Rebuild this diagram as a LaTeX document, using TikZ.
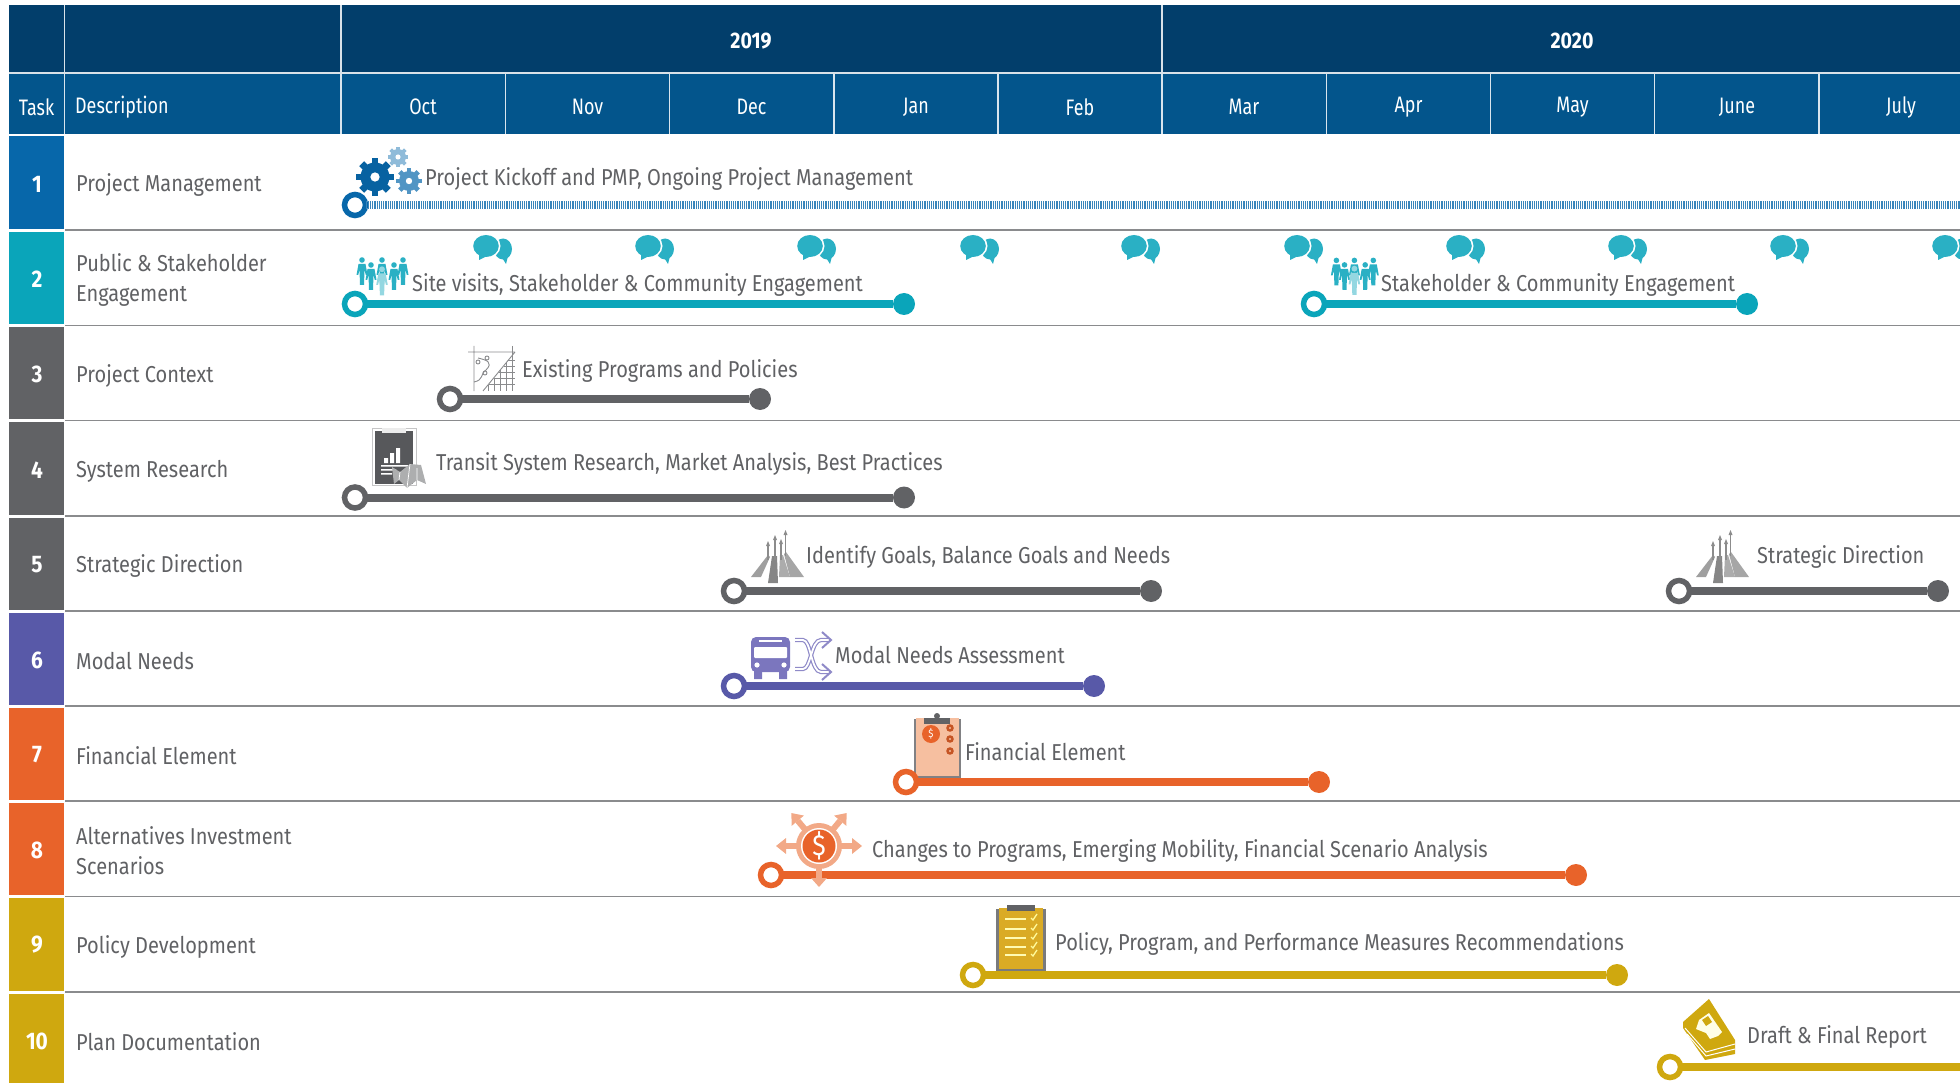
\documentclass[tikz,border=0pt]{standalone}
\usepackage{fontspec}
\setmainfont{Fira Sans}[FakeStretch=0.87]
\newfontfamily\hdfont{Fira Sans}[FakeStretch=0.80]
\definecolor{hdA}{HTML}{023E6B}
\definecolor{hdB}{HTML}{03558C}
\definecolor{tA}{HTML}{0767AA}
\definecolor{tB}{HTML}{0AA5BA}
\definecolor{tC}{HTML}{616265}
\definecolor{tD}{HTML}{5859A8}
\definecolor{tE}{HTML}{E8632A}
\definecolor{tF}{HTML}{CFA80F}
\definecolor{txt}{HTML}{606164}
\definecolor{sep}{HTML}{8A8B8D}
\definecolor{chatc}{HTML}{2AB0C4}
\definecolor{peach}{HTML}{F6BFA0}
\definecolor{lorange}{HTML}{F2A987}
\definecolor{lpurple}{HTML}{7B76BE}
\tikzset{
  x=1pt,y=-1pt,
  rowlabel/.style={anchor=west,inner sep=0pt,text=txt,font=\fontsize{23}{30}\selectfont,align=left},
  barlabel/.style={anchor=west,inner sep=0pt,text=txt,font=\fontsize{23}{30}\selectfont},
  hdtext/.style={inner sep=0pt,text=white,font=\hdfont\fontsize{22.4}{30}\selectfont},
  yeartext/.style={inner sep=0pt,text=white,font=\bfseries\fontsize{22.5}{30}\selectfont},
  tasknum/.style={inner sep=0pt,text=white,font=\bfseries\fontsize{24}{30}\selectfont},
  startdot/.style={circle,draw=#1,fill=white,line width=5.5pt,minimum size=21pt,inner sep=0pt,outer sep=0pt},
  enddot/.style={circle,fill=#1,minimum size=22pt,inner sep=0pt,outer sep=0pt},
  barline/.style={draw=#1,line width=8pt},
  pics/chat/.style={code={
    \fill[chatc] (30,13) ellipse (9 and 10.5);
    \fill[chatc] (28,20) -- (33,28) -- (36,16) -- cycle;
    \fill[white] (13,10) ellipse (14.5 and 12.5);
    \fill[chatc] (13,10) ellipse (12.8 and 11);
    \fill[chatc] (6,16) -- (6,24) -- (16,19) -- cycle;
  }},
  pics/figure/.style={code={
    \fill[#1] (0,-15) circle (2.8);
    \fill[#1] (-3.5,-11) -- (3.5,-11) -- (5.5,0) -- (3.8,0) -- (2.5,-5) -- (2,10) -- (-2,10) -- (-2.5,-5) -- (-3.8,0) -- (-5.5,0) -- cycle;
  }},
  pics/crowd/.style={code={
    \pic at (6,16) {figure=chatc};
    \pic at (47,16) {figure=chatc};
    \pic at (15,21) {figure=chatc};
    \pic at (38,21) {figure=chatc};
    \pic at (26,16) {figure=chatc};
    \pic[scale=1.05] at (26,26) {figure=chatc!50!white};
  }},
  pics/mapgrid/.style={code={
    \begin{scope}[draw=sep,line width=.9pt]
    \draw (6,0) -- (6,45) (0,6) -- (47,6) (47,6) -- (15,45);
    \draw (44,0) -- (44,45);
    \foreach \g in {20,26,32,38} {\draw (\g,{6+(47-\g)*1.22}) -- (\g,45);}
    \foreach \g in {14,20,26,32,38} {\draw ({47-(\g-6)*.82},\g) -- (47,\g);}
    \draw (10,12) .. controls (18,14) and (26,16) .. (18,24) .. controls (12,28) and (16,34) .. (6,36);
    \draw (10,16) circle (2) (19,12) circle (2) (17,27) circle (2);
    \end{scope}
  }},
  pics/research/.style={code={
    \draw[sep!50!white,line width=.8pt] (0,0) rectangle (44,57);
    \fill[tC!90!black] (3,3) rectangle (41,56);
    \fill[white!85!gray] (10,0) rectangle (34,5);
    \fill[white] (12,35) rectangle (16,30) (18,35) rectangle (22,25) (24,35) rectangle (28,20);
    \fill[white] (9,37) rectangle (36,38.5) (9,41) rectangle (24,42.5) (9,45) rectangle (20,46.5);
    \fill[sep!70!white] (20,39) -- (28,44) -- (38,36) -- (49,37) -- (54,56) -- (45,52) -- (35,60) -- (27,52) -- (22,56) -- cycle;
    \draw[white,line width=.7pt] (28,44) -- (27,52) (38,36) -- (35,60) (45,40) -- (45,52);
  }},
  pics/stratdir/.style={code={
    \fill[gray!75] (0,47) -- (10,47) -- (19,27) -- (17,25) -- cycle;
    \fill[gray!95] (17,53) -- (27,53) -- (26,26) -- (21,26) -- cycle;
    \fill[gray!65] (28,47) -- (39,47) -- (32,25) -- (29,25) -- cycle;
    \fill[gray!70] (39,47) -- (53,47) -- (35,22) -- (33,24) -- cycle;
    \draw[gray!90,line width=1.5pt] (17,30) -- (17,14) (24,30) -- (24,8) (30,30) -- (30,12) (34.5,26) -- (34.5,2);
    \fill[gray!90] (17,11) -- (15,16) -- (19,16) -- cycle (24,5) -- (22,10) -- (26,10) -- cycle (30,9) -- (28,14) -- (32,14) -- cycle (34.5,0) -- (32.5,5) -- (36.5,5) -- cycle;
  }},
  pics/busicon/.style={code={
    \fill[lpurple,rounded corners=5pt] (0,3) rectangle (39,38);
    \fill[lpurple] (3,36) rectangle (11,45) (28,36) rectangle (36,45);
    \fill[white,rounded corners=1pt] (3,13) rectangle (36,24);
    \fill[white] (8,6) rectangle (31,8);
    \fill[white] (6,31) circle (2.6) (33,31) circle (2.6);
  }},
  pics/shuffle/.style={code={
    \foreach \c/\w in {lpurple!85!white/4.2,white/1.8}{
      \draw[\c,line width=\w pt] (0,9) -- (8,9) .. controls (16,9) and (16,41) .. (26,41) -- (34,41);
      \draw[\c,line width=\w pt] (0,38) -- (8,38) .. controls (16,38) and (16,9) .. (26,9) -- (34,9);
    }
    \draw[lpurple!85!white,line width=2pt] (27,1) -- (36,9) -- (27,17) (27,33) -- (36,41) -- (27,49);
  }},
  pics/finboard/.style={code={
    \fill[tC!80!white] (0,4) rectangle (47,63);
    \fill[peach] (2,3) rectangle (45,61);
    \fill[tC] (10,3) rectangle (36,9);
    \fill[tC] (23,1) circle (3);
    \fill[tE] (17,19) circle (9);
    \node[inner sep=0pt,text=white,font=\fontsize{11}{12}\selectfont] (findollar) at (17,19) {\$};
    \foreach \ya in {13,24,36}{\fill[tE!85!black] (36,\ya) circle (3.8);\fill[peach] (36,\ya) circle (1.2);}
  }},
  pics/dollarburst/.style={code={
    \fill[lorange] (0,0) circle (23);
    \foreach \a in {0,50,130,180}{
      \begin{scope}[rotate=\a]
      \fill[lorange] (18,-3) rectangle (33,3);
      \fill[lorange] (33,-8) -- (43,0) -- (33,8) -- cycle;
      \end{scope}
    }
    \fill[white] (0,0) circle (18);
    \fill[tE] (0,0) circle (16.5);
    \node[inner sep=0pt,text=white,font=\fontsize{29}{30}\selectfont] (burstdollar) at (0,0) {\$};
  }},
  pics/dollararrow/.style={code={
    \fill[lorange] (-3,0) rectangle (3,13);
    \fill[lorange] (-8,12) -- (8,12) -- (0,21) -- cycle;
  }},
  pics/policyboard/.style={code={
    \fill[tC!85!white] (0,4) rectangle (50,66);
    \fill[tF!85!orange!90!white] (3,3) rectangle (47,64);
    \fill[tC] (11,0) rectangle (39,6);
    \foreach \ya in {14,24,33,42,50}{
      \draw[yellow!30!white,line width=1.3pt] (9,\ya) -- (30,\ya);
      \draw[yellow!40!white,line width=1.3pt] (35,\ya-1) -- (37,\ya+1) -- (41,\ya-5);
    }
  }},
  pics/bookicon/.style={code={
    \fill[tF] (1,24) -- (27,1) -- (53,42) -- (53,56) -- (23,62) -- (1,30) -- cycle;
    \draw[white,line width=1pt] (3,30) -- (24,54) -- (53,46) (5,36) -- (24,58) -- (53,51);
    \fill[white!90!yellow] (17,22) -- (27,15) -- (40,34) -- (36,38) -- (28,41) -- (24,35) -- (14,31) -- cycle;
    \fill[tF] (20,22) -- (26,18) -- (30,24) -- (24,28) -- cycle;
  }}
}
\begin{document}
\begin{tikzpicture}
\useasboundingbox (0,0) rectangle (1960,1083);
% header
\fill[hdA] (9,5) rectangle (1960,72);
\fill[hdB] (9,74.5) rectangle (1960,134);
\foreach \xa in {64.5,341,1162}{\draw[white!85!hdA,line width=1.6pt] (\xa,5) -- (\xa,73);}
\foreach \xa in {64.5,341,505.5,669.5,834,998,1162,1326.5,1490.5,1654.5,1819}{\draw[white!85!hdB,line width=1.6pt] (\xa,73) -- (\xa,134);}
\draw[white!85!hdA,line width=2pt] (9,73) -- (1960,73);
% row colour blocks
\foreach \ya/\yb/\c in {136/229/tA,232/324/tB,327/419/tC,422/515/tC,518/610/tC,613/705/tD,708/800/tE,803/895/tE,898/991/tF,994/1083/tF}{\fill[\c] (9,\ya) rectangle (63.5,\yb);}
% separators
\foreach \ya in {230,325.5,420.5,516,611,706,801,896.5,992}{\draw[sep,line width=1.5pt] (65,\ya) -- (1960,\ya);}
% header text
\node[yeartext] (y19) at (751,41) {2019};
\node[yeartext] (y20) at (1572,41) {2020};
\node[hdtext] (htask) at (36.5,107) {Task};
\node[hdtext,anchor=west] (hdesc) at (75,107) {Description};
\foreach \m/\xc in {Oct/423,Nov/587.5,Dec/751.5,Jan/916,Feb/1080,Mar/1244,Apr/1408.5,May/1572.5,June/1737,July/1901}{\node[hdtext] (m\m) at (\xc,107) {\m};}
% task numbers
\foreach \n/\ya in {1/184,2/279,3/374,4/470,5/565,6/660,7/755,8/850,9/945,10/1041}{\node[tasknum] (n\n) at (37,\ya) {\n};}
% row labels
\node[rowlabel] (d1) at (76,185) {Project Management};
\node[rowlabel] (d2) at (76,280) {Public \& Stakeholder\\[0pt]Engagement};
\node[rowlabel] (d3) at (76,376) {Project Context};
\node[rowlabel] (d4) at (76,471) {System Research};
\node[rowlabel] (d5) at (76,566) {Strategic Direction};
\node[rowlabel] (d6) at (76,661) {Modal Needs};
\node[rowlabel] (d7) at (76,756) {Financial Element};
\node[rowlabel] (d8) at (76,851) {Alternatives Investment\\[0pt]Scenarios};
\node[rowlabel] (d9) at (76,947) {Policy Development};
\node[rowlabel] (d10) at (76,1042) {Plan Documentation};
% icons behind bars
\foreach \xa in {473,635,797,960,1121,1284,1446,1608,1770,1932}{\pic at (\xa,236) {chat};}
\pic at (356,259) {crowd};
\pic[scale=.9] at (1331,261) {crowd};
\pic at (468,346) {mapgrid};
\pic at (372,428) {research};
\pic at (751,530) {stratdir};
\pic at (1696,530) {stratdir};
\pic at (751,634) {busicon};
\pic at (795,631) {shuffle};
\pic at (914,715) {finboard};
\pic at (819,846) {dollarburst};
\pic at (996,905) {policyboard};
\pic at (1682,998) {bookicon};
% gears
\foreach \gx/\gy/\gr/\gc in {398/157/8/{tA!45!white},375/177/14.5/{tA!95!black},409/181/10/{tA!70!white}}{
  \foreach \a in {0,45,...,135}{\fill[\gc,rotate around={\a:(\gx,\gy)}] (\gx-\gr*.24,\gy-\gr*1.3) rectangle (\gx+\gr*.24,\gy+\gr*1.3);}
  \fill[\gc] (\gx,\gy) circle (\gr);
  \fill[white] (\gx,\gy) circle (\gr*.32);
}
% bars
\node[startdot=tA] (s1) at (355,205) {};
\coordinate (r1) at (1960,205);
\draw[tA!80!white,line width=7.5pt,dash pattern=on 1.2pt off 1pt] (s1) -- (r1);
\foreach \id/\c/\xa/\xb/\ya in {
  b2a/tB/355/904/304,
  b2b/tB/1314/1747/304,
  b3/tC/450/760/399,
  b4/tC/355/904/497.5,
  b5a/tC/734/1151/591,
  b5b/tC/1679/1938/591,
  b6/tD/734/1094/686,
  b7/tE/906/1319/782,
  b8/tE/771/1576/875,
  b9/tF/973/1617/975}{
  \node[startdot=\c] (s\id) at (\xa,\ya) {};
  \node[enddot=\c] (e\id) at (\xb,\ya) {};
  \draw[barline=\c] (s\id) -- (e\id);
}
\node[startdot=tF] (sb10) at (1670,1067) {};
\coordinate (rb10) at (1960,1067);
\draw[barline=tF] (sb10) -- (rb10);
\pic at (819,866) {dollararrow};
% bar labels
\node[barlabel] (l1) at (425,179) {Project Kickoff and PMP, Ongoing Project Management};
\node[barlabel] (l2a) at (412,285) {Site visits, Stakeholder \& Community Engagement};
\node[barlabel] (l2b) at (1381,285) {Stakeholder \& Community Engagement};
\node[barlabel] (l3) at (522,371) {Existing Programs and Policies};
\node[barlabel] (l4) at (436,464) {Transit System Research, Market Analysis, Best Practices};
\node[barlabel] (l5a) at (806,557) {Identify Goals, Balance Goals and Needs};
\node[barlabel] (l5b) at (1757,557) {Strategic Direction};
\node[barlabel] (l6) at (835,655) {Modal Needs Assessment};
\node[barlabel] (l7) at (965,752) {Financial Element};
\node[barlabel] (l8) at (872,851) {Changes to Programs, Emerging Mobility, Financial Scenario Analysis};
\node[barlabel] (l9) at (1055,944) {Policy, Program, and Performance Measures Recommendations};
\node[barlabel] (l10) at (1747,1037) {Draft \& Final Report};
\end{tikzpicture}
\end{document}
